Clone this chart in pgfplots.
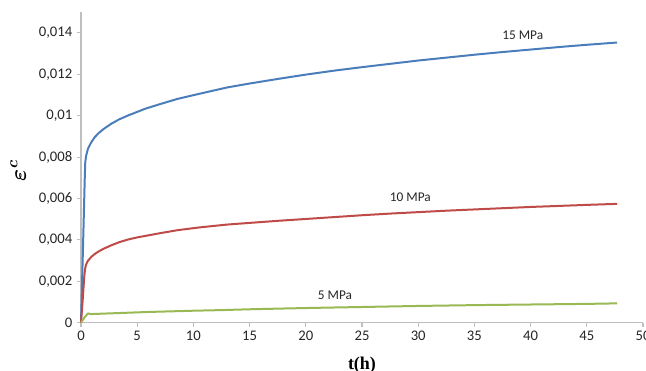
\documentclass[border=0pt]{standalone}
\usepackage{pgfplots}
\pgfplotsset{compat=1.18}
\usepackage{fontspec}
\setmainfont{Liberation Serif}
\newfontfamily\calib{Carlito}
\usepackage{bm}
\definecolor{exblue}{HTML}{4A7EBB}
\definecolor{exred}{HTML}{BE4B48}
\definecolor{exgreen}{HTML}{98B954}
\definecolor{axgray}{HTML}{BFBFBF}
\begin{document}
\begin{tikzpicture}
\begin{axis}[
  scale only axis,
  width=421.5pt, height=233pt,
  xmin=0, xmax=50, ymin=0, ymax=0.015,
  axis x line=bottom, axis y line=left,
  axis line style={-, draw=axgray, line width=1pt},
  tick style={draw=axgray, line width=0.8pt},
  tick align=outside,
  major tick length=3pt,
  xtick={0,5,10,15,20,25,30,35,40,45,50},
  xticklabels={0,5,10,15,20,25,30,35,40,45,50},
  ytick={0,0.002,0.004,0.006,0.008,0.01,0.012,0.014},
  yticklabels={0,{0,002},{0,004},{0,006},{0,008},{0,01},{0,012},{0,014}},
  ticklabel style={font=\calib\fontsize{11}{13}\selectfont, text=black!85},
  scaled y ticks=false,
  xlabel={\textbf{t(h)}},
  xlabel style={at={(axis description cs:0.5,0)}, anchor=center, yshift=-31.5pt, font=\fontsize{13.5}{15}\selectfont},
  ylabel={$\bm{\varepsilon^{c}}$},
  ylabel style={at={(axis description cs:-0.112,0.49)}, anchor=center, font=\fontsize{18}{20}\selectfont},
  clip=false,
]
\coordinate (O) at (rel axis cs:0,0);
\addplot[exblue, line width=1.5pt, line join=round] coordinates {
(0,0) (0.2,0.0041) (0.33,0.0069) (0.38,0.00775) (0.45,0.00805) (0.62,0.0084) (0.9,0.0087) (1.22,0.00896) (1.6,0.00917) (2,0.00935) (2.7,0.00961) (3.4,0.00982) (4.2,0.01001) (5,0.01018) (5.7,0.01033) (7,0.01055) (8.6,0.01081) (10.5,0.01105) (13,0.01136) (15,0.01155) (17.5,0.01177) (20,0.01198) (22.5,0.01217) (25,0.01234) (27.5,0.0125) (30,0.01266) (32.5,0.0128) (35,0.01294) (37.5,0.01307) (40,0.01319) (42.5,0.01331) (45,0.01342) (47.7,0.01353)
};
\addplot[exred, line width=1.5pt, line join=round] coordinates {
(0,0) (0.15,0.0011) (0.3,0.0023) (0.38,0.00265) (0.45,0.0028) (0.6,0.00298) (0.92,0.00318) (1.2,0.00331) (1.5,0.00342) (2,0.00357) (2.7,0.00374) (3.4,0.00389) (4.2,0.00402) (5,0.00412) (5.7,0.00419) (7,0.00432) (8.6,0.00447) (10.5,0.00460) (13,0.00474) (15,0.00482) (17.5,0.00492) (20,0.00501) (22.5,0.0051) (25,0.00519) (27.5,0.00527) (30,0.00534) (32.5,0.00541) (35,0.00547) (37.5,0.00553) (40,0.00559) (42.5,0.00564) (45,0.00569) (47.7,0.00574)
};
\addplot[exgreen, line width=1.5pt, line join=round] coordinates {
(0,0) (0.3,0.00025) (0.62,0.00045) (0.85,0.00042) (1,0.00042) (3,0.00046) (6,0.00052) (10,0.00058) (12.5,0.00061) (15,0.00065) (20,0.00071) (25,0.00076) (30,0.00081) (35,0.00085) (40,0.00088) (45,0.00091) (47.7,0.000935)
};
\node[font=\calib\fontsize{10}{12}\selectfont, text=black!85] at (axis cs:39.3,0.01387) {15 MPa};
\node[font=\calib\fontsize{10}{12}\selectfont, text=black!85] at (axis cs:29.3,0.00607) {10 MPa};
\node[font=\calib\fontsize{10}{12}\selectfont, text=black!85] at (axis cs:22.6,0.00133) {5 MPa};
\end{axis}
\pgfresetboundingbox
\path[use as bounding box] (O) ++(-60.75pt,-36.2pt) rectangle ++(484.5pt,278.25pt);
\end{tikzpicture}
\end{document}
